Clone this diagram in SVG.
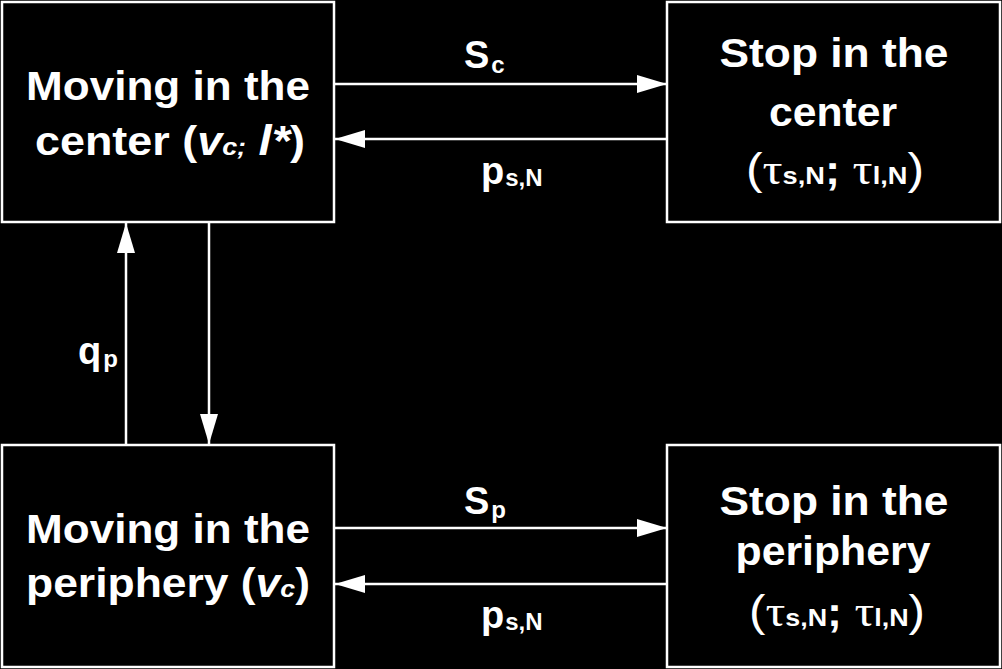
<svg xmlns="http://www.w3.org/2000/svg" width="1002" height="669" viewBox="0 0 1002 669">
<style>
.box{fill:#000;stroke:#fff;stroke-width:2.5}
.t{font-family:"Liberation Sans",Arial,sans-serif;font-weight:bold;fill:#fff;font-size:40px}
.lab{font-family:"Liberation Sans",Arial,sans-serif;font-weight:bold;fill:#fff;font-size:38px}
.sub{font-size:24px}
.gr{font-family:"Liberation Serif","Times New Roman",serif;font-weight:normal;font-size:44px}
.par{font-size:44px;font-weight:normal}
.con{stroke:#fff;stroke-width:2.5;fill:none}
</style>
<defs>
<marker id="ah" markerUnits="userSpaceOnUse" markerWidth="30" markerHeight="18" refX="30" refY="9" orient="auto">
<path d="M0,0 L30,9 L0,18 z" fill="#fff"/>
</marker>
</defs>
<rect width="1002" height="669" fill="#000"/>
<g id="connectors">
<line class="con" x1="334" y1="84" x2="667" y2="84" marker-end="url(#ah)"/>
<line class="con" x1="667" y1="139" x2="335" y2="139" marker-end="url(#ah)"/>
<line class="con" x1="334" y1="528" x2="667" y2="528" marker-end="url(#ah)"/>
<line class="con" x1="667" y1="584" x2="335" y2="584" marker-end="url(#ah)"/>
<line class="con" x1="126" y1="445" x2="126" y2="223" marker-end="url(#ah)"/>
<line class="con" x1="209" y1="222" x2="209" y2="444" marker-end="url(#ah)"/>
<text class="lab" x="464" y="68">S<tspan class="sub" dx="2" dy="5">c</tspan></text>
<text class="lab" x="481" y="184">p<tspan class="sub" dx="1" dy="2">s,N</tspan></text>
<text class="lab" x="464" y="514">S<tspan class="sub" dx="2" dy="4">p</tspan></text>
<text class="lab" x="481" y="628">p<tspan class="sub" dx="1" dy="2">s,N</tspan></text>
<text class="lab" x="78" y="364">q<tspan class="sub" dx="2" dy="3">p</tspan></text>
</g>
<g id="moving-center">
<rect class="box" x="2" y="2" width="332" height="220"/>
<text class="t" x="168" y="100" text-anchor="middle" textLength="284" lengthAdjust="spacingAndGlyphs">Moving in the</text>
<text class="t" x="170" y="155" text-anchor="middle" textLength="270" lengthAdjust="spacingAndGlyphs">center (<tspan font-style="italic">v</tspan><tspan font-style="italic" font-size="24px">c;</tspan> <tspan font-style="italic" font-size="42px">l*</tspan>)</text>
</g>
<g id="stop-center">
<rect class="box" x="667" y="2" width="333" height="220"/>
<text class="t" x="834" y="67" text-anchor="middle" textLength="229" lengthAdjust="spacingAndGlyphs">Stop in the</text>
<text class="t" x="833" y="126" text-anchor="middle" textLength="128" lengthAdjust="spacingAndGlyphs">center</text>
<text class="t" x="835" y="184" text-anchor="middle" textLength="178" lengthAdjust="spacingAndGlyphs"><tspan class="par">(</tspan><tspan class="gr">τ</tspan><tspan class="sub" font-size="24px">s,N</tspan>;  <tspan class="gr">τ</tspan><tspan class="sub" font-size="24px">l,N</tspan><tspan class="par">)</tspan></text>
</g>
<g id="moving-periphery">
<rect class="box" x="2" y="445" width="332" height="222"/>
<text class="t" x="168" y="543" text-anchor="middle" textLength="284" lengthAdjust="spacingAndGlyphs">Moving in the</text>
<text class="t" x="168" y="597" text-anchor="middle" textLength="284" lengthAdjust="spacingAndGlyphs">periphery (<tspan font-style="italic">v</tspan><tspan font-style="italic" font-size="24px">c</tspan>)</text>
</g>
<g id="stop-periphery">
<rect class="box" x="667" y="445" width="333" height="222"/>
<text class="t" x="834" y="515" text-anchor="middle" textLength="229" lengthAdjust="spacingAndGlyphs">Stop in the</text>
<text class="t" x="833" y="565" text-anchor="middle" textLength="195" lengthAdjust="spacingAndGlyphs">periphery</text>
<text class="t" x="837" y="626" text-anchor="middle" textLength="176" lengthAdjust="spacingAndGlyphs"><tspan class="par">(</tspan><tspan class="gr">τ</tspan><tspan class="sub" font-size="24px">s,N</tspan>;  <tspan class="gr">τ</tspan><tspan class="sub" font-size="24px">l,N</tspan><tspan class="par">)</tspan></text>
</g>
</svg>
